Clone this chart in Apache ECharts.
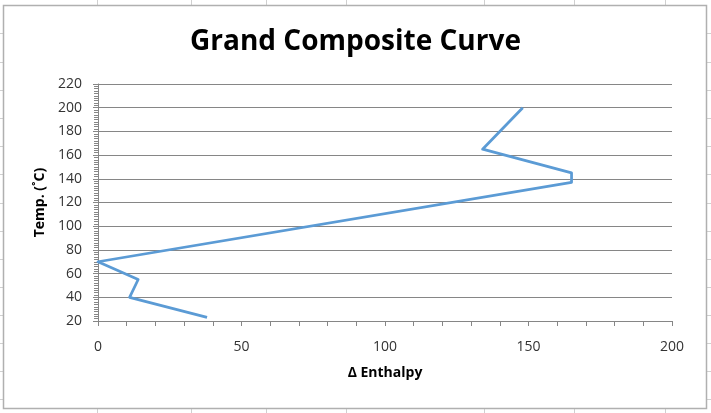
<!DOCTYPE html>
<html>
<head>
<meta charset="utf-8">
<script src="https://cdn.jsdelivr.net/npm/echarts@6/dist/echarts.min.js"></script>
<style>
  html, body { margin: 0; padding: 0; background: #ffffff; }
  #chart { width: 711px; height: 413px; }
</style>
</head>
<body>
<div id="chart"></div>
<script>
// Grand composite curve: shifted temperature vs. net heat flow
const enthalpy    = [148, 134, 165, 165, 0, 14, 11, 38];
const temperature = [200, 165, 145, 137, 70, 55, 40, 23];

const xTicks = [0, 50, 100, 150, 200];
const yTicks = [20, 40, 60, 80, 100, 120, 140, 160, 180, 200, 220];

const curve = enthalpy.map((h, i) => [h, temperature[i]]);

// Worksheet cell lines around the embedded chart
const colLines = [97, 191, 266, 346, 484, 574, 665];
const rowLines = [33, 62, 90, 118, 146, 174, 203, 231, 259, 287, 315, 343, 371, 399];

const W = 711, H = 413;
const sheet = [];
colLines.forEach(x => sheet.push({
  type: 'line', z: -20, silent: true,
  shape: { x1: x + 0.5, y1: 0, x2: x + 0.5, y2: H },
  style: { stroke: '#d0d0d0', lineWidth: 1 }
}));
rowLines.forEach(y => sheet.push({
  type: 'line', z: -20, silent: true,
  shape: { x1: 0, y1: y + 0.5, x2: W, y2: y + 0.5 },
  style: { stroke: '#d0d0d0', lineWidth: 1 }
}));
sheet.push({
  type: 'rect', z: -10, silent: true,
  shape: { x: 3.5, y: 5.5, width: 703, height: 403 },
  style: { fill: '#ffffff', stroke: '#b0b0b0', lineWidth: 1.5 }
});

const FONT = 'Open Sans';

const chart = echarts.init(document.getElementById('chart'), null, { renderer: 'canvas' });
chart.setOption({
  backgroundColor: '#ffffff',
  animation: false,
  graphic: sheet,
  title: {
    text: 'Grand Composite Curve',
    left: 'center',
    top: 23,
    textStyle: { fontFamily: FONT, fontWeight: 'bold', fontSize: 28, color: '#000000' }
  },
  grid: { left: 98, right: 39, top: 84, bottom: 92 },
  xAxis: {
    type: 'value',
    min: xTicks[0], max: xTicks[xTicks.length - 1], interval: 50,
    name: 'Δ Enthalpy',
    nameLocation: 'middle',
    nameGap: 45,
    nameTextStyle: { fontFamily: FONT, fontWeight: 'bold', fontSize: 14, color: '#000000' },
    axisLine: { show: true, lineStyle: { color: '#868686', width: 1 } },
    axisTick: { show: true, inside: false, length: 5, lineStyle: { color: '#868686' } },
    minorTick: { show: true, splitNumber: 5, length: 5, lineStyle: { color: '#868686' } },
    axisLabel: { margin: 19, fontFamily: FONT, fontSize: 14, color: '#333333' },
    splitLine: { show: false }
  },
  yAxis: {
    type: 'value',
    min: yTicks[0], max: yTicks[yTicks.length - 1], interval: 20,
    name: 'Temp. (˚C)',
    nameLocation: 'middle',
    nameGap: 50,
    nameRotate: 90,
    nameTextStyle: { fontFamily: FONT, fontWeight: 'bold', fontSize: 14, color: '#000000' },
    axisLine: { show: true, lineStyle: { color: '#868686', width: 1 } },
    axisTick: { show: true, inside: false, length: 5, lineStyle: { color: '#868686' } },
    minorTick: { show: true, splitNumber: 10, length: 4, lineStyle: { color: '#868686' } },
    axisLabel: { margin: 16, fontFamily: FONT, fontSize: 14, color: '#333333' },
    splitLine: { show: true, lineStyle: { color: '#868686', width: 1 } }
  },
  series: [{
    type: 'line',
    data: curve,
    showSymbol: false,
    symbol: 'none',
    lineStyle: { color: '#5b9bd5', width: 2.75, join: 'round' },
    clip: false
  }]
});
</script>
</body>
</html>
